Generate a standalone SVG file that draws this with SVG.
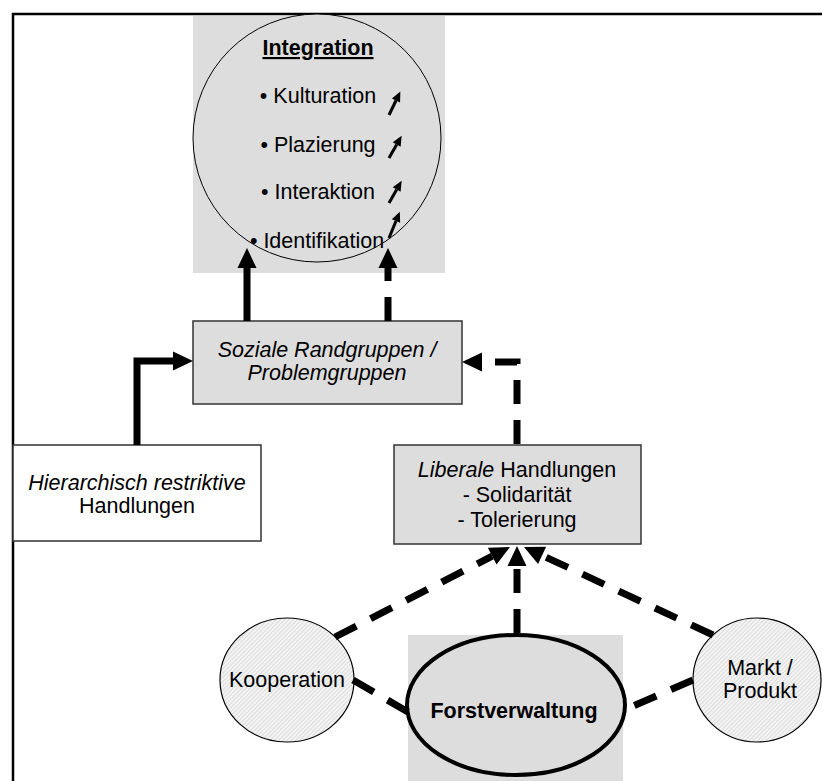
<svg xmlns="http://www.w3.org/2000/svg" width="822" height="781" viewBox="0 0 822 781">
<style>
text{font-family:"Liberation Sans",Arial,sans-serif;font-size:21.5px;fill:#000}
.b{font-weight:bold}
.i{font-style:italic}
.box{fill:#dddddd;stroke:#333;stroke-width:1.5}
.wbox{fill:#fff;stroke:#333;stroke-width:1.5}
.thick{fill:none;stroke:#000;stroke-width:7}
.dash{fill:none;stroke:#000;stroke-width:7;stroke-dasharray:24 16}
.small{fill:none;stroke:#000;stroke-width:3}
</style>
<defs>
<marker id="ah" markerUnits="userSpaceOnUse" markerWidth="20" markerHeight="19" refX="0" refY="9.5" orient="auto" overflow="visible">
<path d="M0,0 L20,9.5 L0,19 z" fill="#000"/>
</marker>
<marker id="sh" markerUnits="userSpaceOnUse" markerWidth="10" markerHeight="9" refX="0" refY="4.5" orient="auto" overflow="visible">
<path d="M0,0 L10,4.5 L0,9 z" fill="#000"/>
</marker>
<pattern id="hatch" patternUnits="userSpaceOnUse" width="3" height="3" patternTransform="rotate(45)">
<rect width="3" height="3" fill="#f4f4f4"/>
<line x1="0" y1="0" x2="0" y2="3" stroke="#b8b8b8" stroke-width="0.8"/>
</pattern>
</defs>
<rect width="822" height="781" fill="#fff"/>
<g id="frame">
<line x1="12" y1="14" x2="822" y2="14" stroke="#000" stroke-width="2.5"/>
<line x1="13" y1="13" x2="13" y2="781" stroke="#000" stroke-width="2.5"/>
</g>
<g id="integration">
<rect x="193" y="16" width="252" height="257" fill="#dddddd"/>
<circle cx="317" cy="138" r="124" fill="#dddddd" stroke="#000" stroke-width="1"/>
<text x="318" y="55" class="b" text-anchor="middle" text-decoration="underline">Integration</text>
<text x="318" y="103" text-anchor="middle">• Kulturation</text>
<text x="318" y="152" text-anchor="middle">• Plazierung</text>
<text x="318" y="199" text-anchor="middle">• Interaktion</text>
<text x="317" y="248" text-anchor="middle">• Identifikation</text>
<path class="small" d="M389,115 L396,100.5" marker-end="url(#sh)"/>
<path class="small" d="M389,158 L396.7,144.5" marker-end="url(#sh)"/>
<path class="small" d="M389,203 L396.7,189.5" marker-end="url(#sh)"/>
<path class="small" d="M389,238 L396,221" marker-end="url(#sh)"/>
</g>
<g id="soziale">
<rect class="box" x="193" y="321" width="269" height="83"/>
<text x="327" y="357" class="i" text-anchor="middle">Soziale Randgruppen /</text>
<text x="327" y="380" class="i" text-anchor="middle">Problemgruppen</text>
</g>
<g id="hierarchisch">
<rect class="wbox" x="13" y="445" width="248" height="96"/>
<text x="137" y="490" class="i" text-anchor="middle">Hierarchisch restriktive</text>
<text x="137" y="513" text-anchor="middle">Handlungen</text>
</g>
<g id="liberale">
<rect class="box" x="394" y="445" width="247" height="99"/>
<text x="517" y="477" text-anchor="middle"><tspan font-style="italic">Liberale</tspan> Handlungen</text>
<text x="517" y="502" text-anchor="middle">- Solidarität</text>
<text x="517" y="527" text-anchor="middle">- Tolerierung</text>
</g>
<g id="kooperation">
<ellipse cx="287" cy="680" rx="67" ry="62" fill="url(#hatch)" stroke="#000" stroke-width="1.2"/>
<text x="287" y="687" text-anchor="middle">Kooperation</text>
</g>
<g id="markt">
<ellipse cx="757" cy="680" rx="64" ry="62" fill="url(#hatch)" stroke="#000" stroke-width="1.2"/>
<text x="760" y="675" text-anchor="middle">Markt /</text>
<text x="760" y="698" text-anchor="middle">Produkt</text>
</g>
<g id="forstverwaltung">
<rect x="408" y="635" width="215" height="146" fill="#dddddd"/>
<ellipse cx="516" cy="705" rx="109" ry="70" fill="#dddddd" stroke="#000" stroke-width="4"/>
<text x="514" y="718" class="b" text-anchor="middle">Forstverwaltung</text>
</g>
<g id="connectors">
<path class="thick" d="M247,321 L247,268" marker-end="url(#ah)"/>
<path class="dash" d="M388,321 L388,268" marker-end="url(#ah)"/>
<path class="thick" d="M137,445 L137,361 L173,361" marker-end="url(#ah)"/>
<path class="dash" d="M517,444 L517,362 L482,362" marker-end="url(#ah)"/>
<path class="dash" d="M335,637 L492.2,556.1" marker-end="url(#ah)"/>
<path class="dash" d="M517,633 L517,566" marker-end="url(#ah)"/>
<path class="dash" d="M713,635 L542.1,555.4" marker-end="url(#ah)"/>
<path class="dash" d="M353,680 L408,712"/>
<path class="dash" d="M693,680 L624,710"/>
</g>
</svg>
